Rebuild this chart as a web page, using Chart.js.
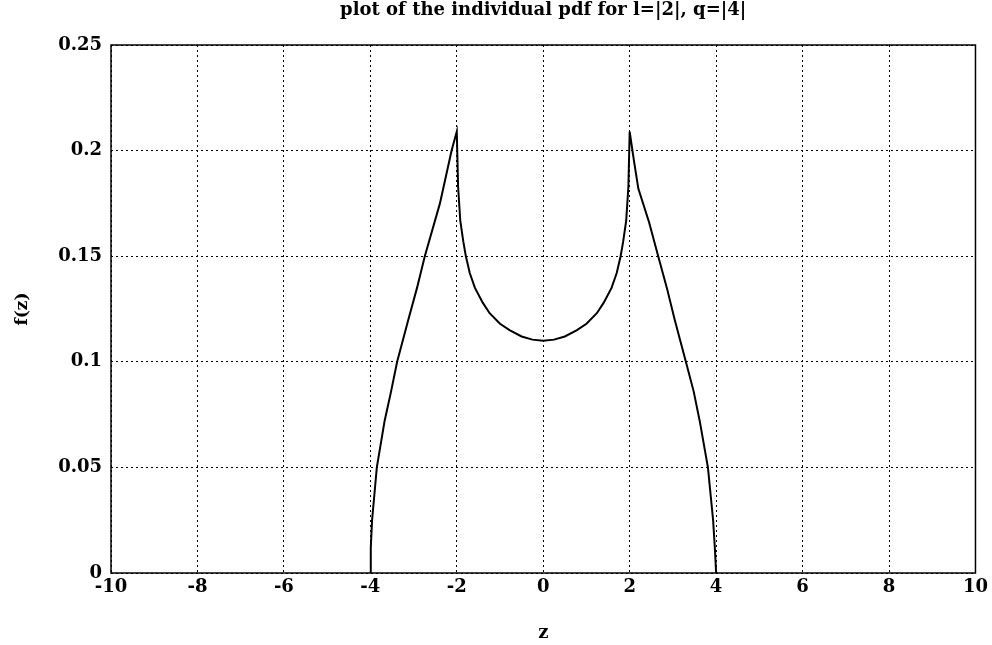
<!DOCTYPE html>
<html>
<head>
<meta charset="utf-8">
<script src="https://cdn.jsdelivr.net/npm/chart.js@4"></script>
<style>
  html, body { margin: 0; padding: 0; background: #fff; }
  #wrap { width: 992px; height: 645px; }
</style>
</head>
<body>
<div id="wrap"><canvas id="myChart"></canvas></div>
<script>
// curve f(z)
const zValues = [
  -4.0, -3.99, -3.96, -3.85, -3.67, -3.52, -3.38, -3.12, -2.92, -2.74, -2.39, -2.12, -2.0,
  -1.97, -1.92, -1.85, -1.79, -1.70, -1.58, -1.40, -1.24, -1.0, -0.78, -0.5, -0.25, 0,
  0.25, 0.5, 0.78, 1.0, 1.24, 1.40, 1.58, 1.70, 1.79, 1.85, 1.92, 1.97,
  2.0, 2.1, 2.2, 2.45, 2.66, 2.86, 3.04, 3.3, 3.48, 3.62, 3.81, 3.93, 3.97, 4.0
];
const fValues = [
  0, 0.012, 0.025, 0.05, 0.072, 0.086, 0.10, 0.12, 0.135, 0.15, 0.175, 0.20, 0.209,
  0.183, 0.167, 0.157, 0.150, 0.142, 0.135, 0.128, 0.123, 0.118, 0.115, 0.112, 0.1105, 0.110,
  0.1105, 0.112, 0.115, 0.118, 0.123, 0.128, 0.135, 0.142, 0.150, 0.157, 0.167, 0.183,
  0.209, 0.195, 0.182, 0.166, 0.15, 0.135, 0.12, 0.10, 0.086, 0.072, 0.05, 0.025, 0.012, 0
];

const xTickLabels = ['-10', '-8', '-6', '-4', '-2', '0', '2', '4', '6', '8', '10'];
const yTickLabels = ['0', '0.05', '0.1', '0.15', '0.2', '0.25'];

const FONT = '"DejaVu Serif", "Liberation Serif", serif';

// full black frame round the plot area, like the original axes box
const boxPlugin = {
  id: 'axesBox',
  afterDraw(chart) {
    const a = chart.chartArea;
    const ctx = chart.ctx;
    ctx.save();
    ctx.strokeStyle = '#000';
    ctx.lineWidth = 1.5;
    ctx.setLineDash([]);
    ctx.strokeRect(a.left, a.top, a.right - a.left, a.bottom - a.top);
    ctx.restore();
  }
};

const config = {
  type: 'line',
  data: {
    datasets: [{
      label: 'f(z)',
      data: zValues.map((z, i) => ({ x: z, y: fValues[i] })),
      xAxisID: 'x',
      yAxisID: 'y',
      borderColor: '#000',
      borderWidth: 2,
      fill: false,
      tension: 0,
      pointRadius: 0,
    }]
  },
  options: {
    responsive: true,
    maintainAspectRatio: false,
    animation: false,
    layout: {
      padding: { left: 0, right: 16, top: 0, bottom: 0 },
    },
    plugins: {
      legend: { display: false },
      tooltip: { enabled: false },
      title: { display: false },
    },
    scales: {
      x: {
        type: 'linear',
        position: 'bottom',
        min: -10,
        max: 10,
        afterFit: s => { s.height = 72; },
        afterBuildTicks: s => {
          s.ticks = xTickLabels.map(t => ({ value: Number(t) }));
        },
        ticks: {
          color: '#000',
          maxRotation: 0,
          padding: 4,
          font: { family: FONT, size: 18, weight: 'bold' },
          callback: (v, i) => xTickLabels[i],
        },
        grid: {
          color: '#000',
          lineWidth: 1,
          drawTicks: false,
        },
        border: { display: false, dash: [2, 3] },
        title: {
          display: true,
          text: 'z',
          color: '#000',
          font: { family: FONT, size: 18, weight: 'bold' },
          padding: { top: 0, bottom: 1 },
        },
      },
      // top axis only carries the plot title, centred over the plot area
      xTop: {
        type: 'linear',
        position: 'top',
        min: -10,
        max: 10,
        afterFit: s => { s.height = 45; },
        ticks: { display: false },
        grid: { display: false },
        border: { display: false },
        title: {
          display: true,
          text: 'plot of the individual pdf for l=|2|, q=|4|',
          color: '#000',
          font: { family: FONT, size: 18, weight: 'bold' },
          padding: { top: 0, bottom: 0 },
        },
      },
      y: {
        type: 'linear',
        min: 0,
        max: 0.25,
        afterFit: s => { s.width = 111; },
        afterBuildTicks: s => {
          s.ticks = yTickLabels.map(t => ({ value: Number(t) }));
        },
        ticks: {
          color: '#000',
          padding: 9,
          font: { family: FONT, size: 18, weight: 'bold' },
          callback: (v, i) => yTickLabels[i],
        },
        grid: {
          color: '#000',
          lineWidth: 1,
          drawTicks: false,
        },
        border: { display: false, dash: [2, 3] },
        title: {
          display: true,
          text: 'f(z)',
          color: '#000',
          font: { family: FONT, size: 17, weight: 'bold' },
          padding: { top: 12, bottom: 0 },
        },
      },
    },
  },
  plugins: [boxPlugin],
};

new Chart(document.getElementById('myChart').getContext('2d'), config);
</script>
</body>
</html>
